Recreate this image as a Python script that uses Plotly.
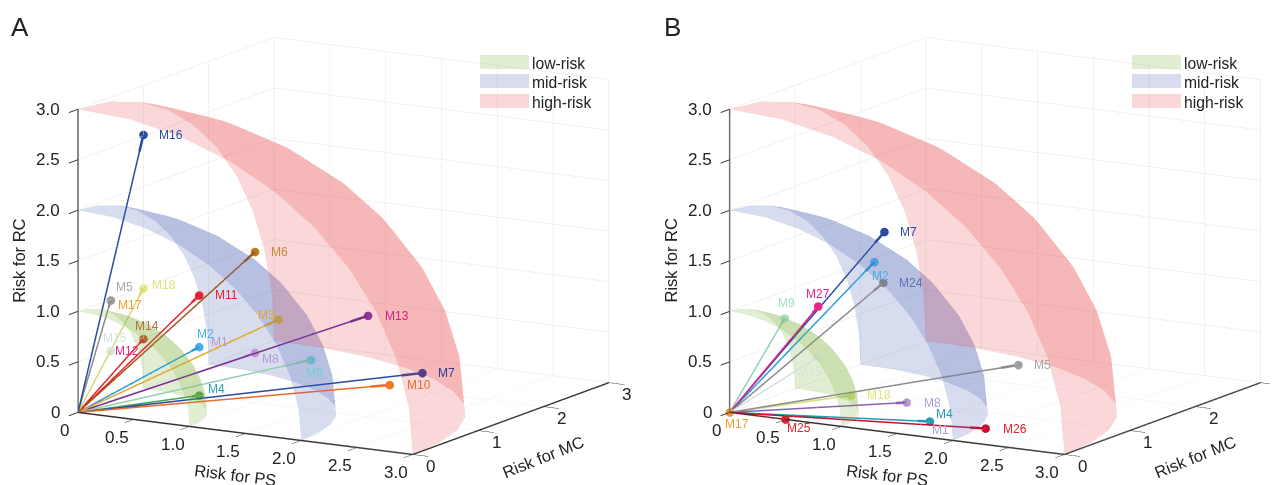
import plotly.graph_objects as go

SHELL_NAMES = ["low-risk", "mid-risk", "high-risk"]
SHELL_RADII = [1, 2, 3]
SHELL_COLORS = ["#7cb03a", "#4a5fb5", "#e8474c"]
ARC_COS = [1, .988, .951, .891, .809, .707, .588, .454, .309, .156, 0]
ARC_SIN = [0, .156, .309, .454, .588, .707, .809, .891, .951, .988, 1]

A_LABELS = ["M15","M5","M17","M18","M16","M12","M14","M11","M6","M1","M2","M3","M13","M8","M9","M4","M7","M10"]
A_PS = [0,0,0,0,0,0,0,.5,1,.5,.5,1.21,1.72,1,1.5,.5,2.5,2.5]
A_MC = [.5,.5,.5,1,1,1,1,1,1,1,1,1,1.5,1,1,1,1,.5]
A_RC = [.49,.99,.99,.99,2.51,.49,.49,.99,1.49,.48,.48,.85,.84,.49,.49,0,.5,.5]
A_LINE = ["#cfe3d5","#8c8c8c","#8c8c8c","#d6dc78","#2b4ba0","#e6258c","#e0262e","#e8212e","#a0591c","#b79bd0","#2a9fd8","#e3a92c","#7d2f90","#b79bd0","#90cfb0","#3ea64a","#2b4ba0","#ef6a2a"]
A_DOT = ["#d5e6da","#9a9a9a","#9a9a9a","#e6e67c","#2b4ba0","#e6258c","#d0413a","#e8212e","#b97a20","#b79bd0","#4ab0e3","#e3a92c","#8e3a96","#b79bd0","#6fcfd8","#3ea64a","#2b3a95","#ef7a2a"]
A_TEXT = ["#d5e6da","#a8a8a8","#f39a2e","#e3e37a","#2b4ba0","#e6258c","#b5733a","#e8212e","#c58a30","#b79bd0","#4ab0e3","#e3a92c","#c8297f","#b79bd0","#6fcfd8","#2f9fb5","#2b3a95","#ef6a2a"]
A_DX = [-10,3,5,7,14,-30,-10,14,14,10,-4,-22,15,5,-7,7,14,15]
A_DY = [13,13,-5,3,0,-12,13,0,0,5,13,5,0,-6,-13,6,0,0]

B_LABELS = ["M17","M25","M15","M9","M27","M7","M2","M24","M5","M18","M8","M1","M4","M26"]
B_PS = [0,.5,.5,.2,.5,.8,.71,.79,2,.5,1,1.5,1.5,2]
B_MC = [0,0,.5,.5,.5,1,1,1,1,1,1,.5,.5,.5]
B_RC = [0,0,.5,.84,1,1.66,1.35,1.155,.51,0,0,0,0,0]
B_LINE = ["#f39a2e","#e0202a","#cfe3d5","#8fd0b0","#e6258c","#2b4ba0","#2a9fd8","#8c8c8c","#8c8c8c","#d6dc78","#8e5fb0","#b79bd0","#1f9cb5","#c8102e"]
B_DOT = ["#f39a2e","#e0202a","#dce9df","#a5dcc5","#e6258c","#2b4ba0","#4ab0e3","#8c8c8c","#a0a0a0","#dfe38a","#b79bd0","#b79bd0","#1f9cb5","#c8102e"]
B_TEXT = ["#f39a2e","#e0202a","#d5e6da","#a5dcc5","#e6258c","#2b4ba0","#4ab0e3","#5a72b0","#a8a8a8","#e3e37a","#b79bd0","#b79bd0","#1f9cb5","#e0202a"]
B_DX = [-7,0,-22,-9,-14,14,-4,14,14,14,15,0,4,15]
B_DY = [-12,-9,-15,15,12,0,-14,0,0,0,-1,-9,7,-1]

PS_TICKS = [0,.5,1,1.5,2,2.5,3]
PS_TEXT = ["0","0.5","1.0","1.5","2.0","2.5","3.0"]
MC_TICKS = [0,1,2,3]
MC_TEXT = ["0","1","2","3"]
RC_TICKS = [0,.5,1,1.5,2,2.5,3]
RC_TEXT = ["0","0.5","1.0","1.5","2.0","2.5","3.0"]
TITLES = ["Risk for PS", "Risk for MC", "Risk for RC"]

W, H = 1278, 485
PAGE = 8  # the page body's own margin
FONT = "Liberation Sans"
EYE = (0.494, -0.843, 0.2146)
DIST = 2.2
ZOOM = 1.6
HEAD = 0.94

fig = go.Figure()

def shell(scene, r, color):
    x = [[r * s * c for c in ARC_COS] for s in ARC_SIN]
    y = [[r * s * t for t in ARC_SIN] for s in ARC_SIN]
    z = [[r * k for _ in ARC_COS] for k in ARC_COS]
    fig.add_trace(go.Surface(x=x, y=y, z=z, scene=scene, showscale=False, opacity=0.22,
                             colorscale=[[0, color], [1, color]], hoverinfo="skip",
                             lighting=dict(ambient=1, diffuse=0, specular=0, fresnel=0, roughness=1)))

def rays(scene, labels, ps, mc, rc, line, dot):
    for i, name in enumerate(labels):
        fig.add_trace(go.Scatter3d(x=[0, ps[i]], y=[0, mc[i]], z=[0, rc[i]], scene=scene, name=name,
                                   mode="lines", line=dict(color=line[i], width=3), hoverinfo="skip"))
        fig.add_trace(go.Scatter3d(x=[HEAD * ps[i], ps[i]], y=[HEAD * mc[i], mc[i]], z=[HEAD * rc[i], rc[i]],
                                   scene=scene, name=name, mode="lines",
                                   line=dict(color=line[i], width=5), hoverinfo="skip"))
        fig.add_trace(go.Scatter3d(x=[ps[i]], y=[mc[i]], z=[rc[i]], scene=scene, name=name,
                                   mode="markers", marker=dict(color=dot[i], size=5, line=dict(width=0)),
                                   hoverinfo="skip"))

for r, c in zip(SHELL_RADII, SHELL_COLORS):
    shell("scene", r, c)
    shell("scene2", r, c)
rays("scene", A_LABELS, A_PS, A_MC, A_RC, A_LINE, A_DOT)
rays("scene2", B_LABELS, B_PS, B_MC, B_RC, B_LINE, B_DOT)

def note(x, y, z, text, dx, dy, color, size, anchor="center", angle=0):
    return dict(x=x, y=y, z=z, text=text, showarrow=False, xanchor=anchor, yanchor="middle",
                xshift=dx, yshift=dy, textangle=angle, font=dict(color=color, size=size, family=FONT))

def notes(labels, ps, mc, rc, col, dx, dy):
    out = [note(ps[i], mc[i], rc[i], labels[i], dx[i], dy[i], col[i], 12, "left") for i in range(len(labels))]
    for v, t in zip(PS_TICKS, PS_TEXT):
        out.append(note(v, 0, 0, t, -13 if v == 0 else -17, -18, "#222", 17))
    for v, t in zip(MC_TICKS, MC_TEXT):
        out.append(note(3, v, 0, t, 18, -12, "#222", 17))
    for v, t in zip(RC_TICKS, RC_TEXT):
        out.append(note(0, 0, v, t, -16, 0, "#222", 17, "right"))
    out.append(note(1.5, 0, 0, TITLES[0], -10, -42, "#222", 16.5, angle=7))
    out.append(note(3, 1.5, 0, TITLES[1], 32, -38, "#222", 16.5, angle=-22))
    out.append(note(0, 0, 1.5, TITLES[2], -59, 0, "#222", 16.5, angle=-90))
    return out

def axis(vals, linecolor):
    return dict(title=dict(text=""), range=[0, 3], autorange=False, tickmode="array", tickvals=vals,
                showticklabels=False, ticks="outside", ticklen=18, tickwidth=2, tickcolor="#333", gridcolor="#e4e4e4",
                gridwidth=1, showline=True, linecolor=linecolor, linewidth=3, showbackground=False,
                zeroline=False, showspikes=False)

def scene(domain, ann, center):
    return dict(domain=dict(x=domain, y=[0, 1]), aspectmode="manual",
                aspectratio=dict(x=ZOOM, y=ZOOM, z=.8 * ZOOM),
                xaxis=axis(PS_TICKS, "#333"), yaxis=axis(MC_TICKS, "#333"), zaxis=axis(RC_TICKS, "#666"),
                annotations=ann,
                camera=dict(projection=dict(type="orthographic"), up=dict(x=0, y=0, z=1), center=center,
                            eye=dict(x=EYE[0] * DIST + center["x"], y=EYE[1] * DIST + center["y"], z=EYE[2] * DIST + center["z"])))

shapes, anns = [], []
for left, panel, px in ((480, "A", 9), (1132, "B", 662)):
    for i, (name, c) in enumerate(zip(SHELL_NAMES, SHELL_COLORS)):
        top = (55, 74, 94)[i]
        shapes.append(dict(type="rect", xref="paper", yref="paper", x0=(left - PAGE) / W, x1=(left + 49 - PAGE) / W,
                           y0=1 - (top + 14 - PAGE) / H, y1=1 - (top - PAGE) / H, fillcolor=c, opacity=.22, line_width=0))
        anns.append(dict(xref="paper", yref="paper", x=(left + 50 - PAGE) / W, y=1 - (top + 8.5 - PAGE) / H, text=name,
                         showarrow=False, xanchor="left", yanchor="middle",
                         font=dict(size=15.7, color="#222", family=FONT)))
    anns.append(dict(xref="paper", yref="paper", x=(px - PAGE) / W, y=1 - (27 - PAGE) / H, text=panel, showarrow=False,
                     xanchor="left", yanchor="middle", font=dict(size=26, color="#222", family=FONT)))

fig.update_layout(width=W, height=H, margin=dict(l=0, r=0, t=0, b=0), showlegend=False,
                  paper_bgcolor="white", shapes=shapes, annotations=anns,
                  scene=scene([0, .5336], notes(A_LABELS, A_PS, A_MC, A_RC, A_TEXT, A_DX, A_DY), dict(x=.0197, y=.0116, z=-.0192)),
                  scene2=scene([.5, 1], notes(B_LABELS, B_PS, B_MC, B_RC, B_TEXT, B_DX, B_DY), dict(x=-.1019, y=-.0598, z=-.0192)))
fig.write_html("out.html")
